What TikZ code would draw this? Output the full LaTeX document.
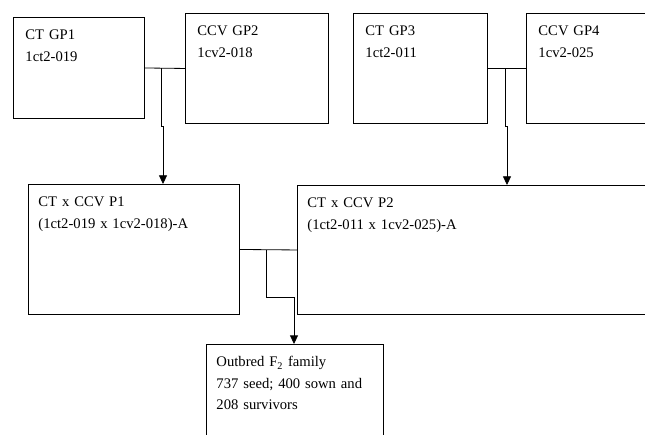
\documentclass[tikz,border=0pt]{standalone}
\usepackage{fontspec}
\setmainfont{Liberation Serif}
\usepackage{tikz}
\usetikzlibrary{arrows.meta, positioning, calc}
\newcommand{\famfont}{\fontsize{12.5}{18}\selectfont}
\tikzstyle{famblock} = [rectangle, draw, line width=0.8pt, anchor=north west, align=left, inner xsep=3.6mm, inner ysep=3.15mm, text height=3.6mm, font=\famfont]
\tikzstyle{crossblock} = [famblock, inner xsep=3mm]
\tikzstyle{link} = [line width=0.7pt]
\tikzstyle{arrow} = [-{Triangle[length=2.6mm, width=2.4mm]}, line width=0.7pt]

\begin{document}
\begin{tikzpicture}[x=0.3mm, y=-0.3mm]
    \useasboundingbox (0, 0) rectangle (645, 434);
    \clip (0, 0) rectangle (645, 434);

    % Grandparents
    \node[famblock, text width=32.1mm, text depth=20.4mm] (gp1) at (13, 17) {CT GP1\\1ct2-019};
    \node[famblock, text width=35.7mm, text depth=23.1mm] (gp2) at (185, 13) {CCV GP2\\1cv2-018};
    \node[famblock, text width=33mm, text depth=23.1mm] (gp3) at (353, 13) {CT GP3\\1ct2-011};
    \node[famblock, text width=35.7mm, text depth=23.1mm] (gp4) at (526, 13) {CCV GP4\\1cv2-025};

    % Parents
    \node[crossblock, text width=57.3mm, text depth=29.1mm] (p1) at (28, 184) {CT x CCV P1\\(1ct2-019 x 1cv2-018)-A};
    \node[crossblock, text width=102mm, text depth=28.8mm] (p2) at (297, 185) {CT x CCV P2\\(1ct2-011 x 1cv2-025)-A};

    % F2 family
    \node[crossblock, text width=47.1mm, text depth=20.1mm] (f2) at (206, 344) {Outbred F\textsubscript{2} family\\737 seed; 400 sown and\\208 survivors};

    % Junctions
    \coordinate (j1) at (161, 68);
    \coordinate (b1) at (163, 126);
    \coordinate (j2) at (505, 68);
    \coordinate (b2) at (507, 126);
    \coordinate (j3) at (266, 250);
    \coordinate (b3) at (294, 297);

    % Crosses
    \draw[link] (gp1.east) -- (gp2.west);
    \draw[link] (gp3.east) -- (gp4.west);
    \draw[link] (p1.east) -- (p2.west);

    % Arrows
    \draw[arrow] (j1) |- (b1) -- (b1 |- p1.north);
    \draw[arrow] (j2) |- (b2) -- (b2 |- p2.north);
    \draw[arrow] (j3) |- (b3) -- (b3 |- f2.north);
\end{tikzpicture}
\end{document}
